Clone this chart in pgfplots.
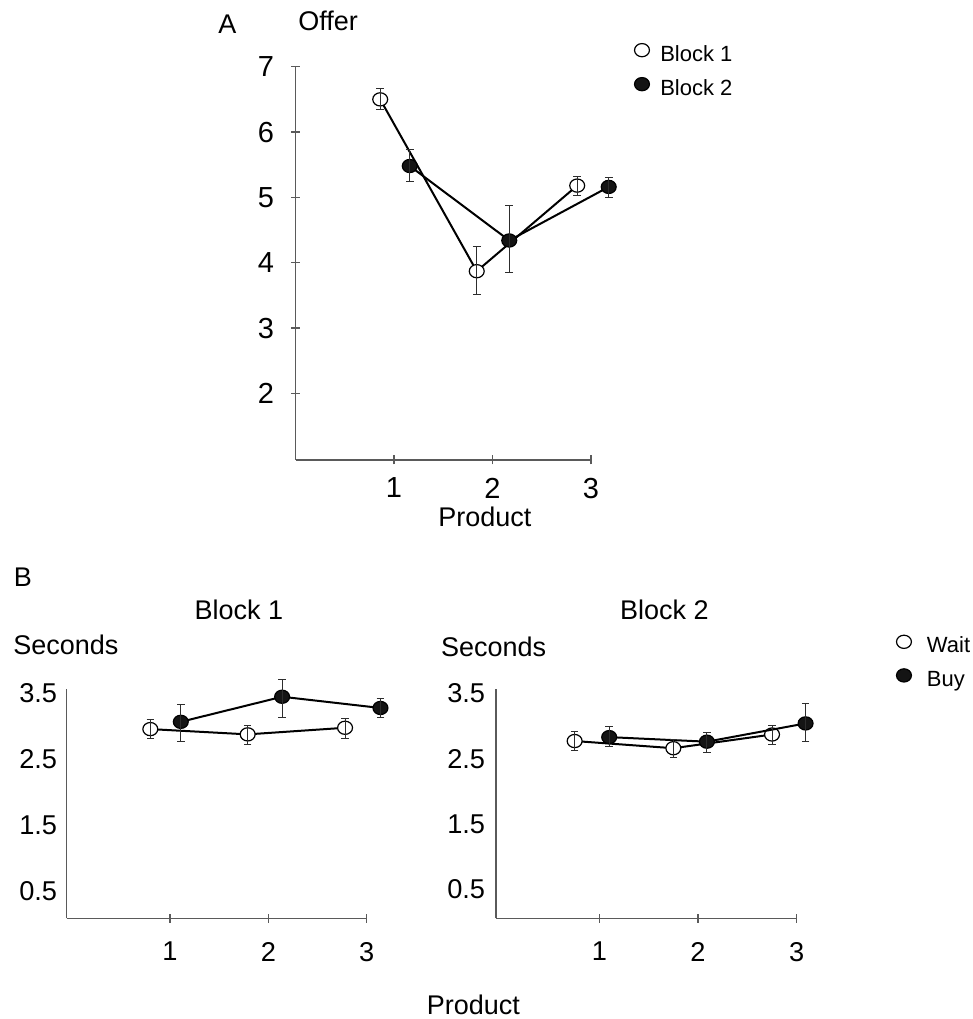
\documentclass[border=0pt]{standalone}
\usepackage{fontspec}
\setmainfont{Liberation Sans}
\usepackage{pgfplots}
\pgfplotsset{compat=1.18}
\usepackage{pgfplotstable}

\definecolor{axgray}{RGB}{90,90,90}
\definecolor{errgray}{RGB}{45,45,45}

\newcommand{\Lab}{\fontsize{13.5}{16}\selectfont}
\newcommand{\TckA}{\fontsize{14.5}{17}\selectfont}
\newcommand{\TckB}{\fontsize{13.6}{16}\selectfont}
\newcommand{\Leg}{\fontsize{11}{13}\selectfont}

\pgfplotsset{
  myaxis/.style={
    clip marker paths=true,
    scale only axis, anchor=south west,
    axis lines=left, axis line style={-, axgray, line width=0.75pt},
    tick style={axgray, line width=0.6pt},
    tick align=center, major tick length=4.5pt,
    /pgf/number format/assume math mode=true,
    clip=false,
    tick label style={inner sep=0pt},
    xtick={1,2,3},
    legend image code/.code={\draw[##1] plot coordinates {(0pt,0pt)};},
  },
  open/.style={black, line width=1pt, mark=*, mark size=3.3pt,
    mark options={xscale=1.13, fill=white, draw=black, line width=0.6pt, solid}},
  filled/.style={black, line width=1pt, mark=*, mark size=3.3pt,
    mark options={xscale=1.13, fill=black!92, draw=black, line width=0.6pt, solid}},
  errs/.style={forget plot, draw=none, mark=none,
    error bars/.cd, y dir=both, y explicit,
    error bar style={draw=errgray, line width=0.5pt, solid},
    error mark options={draw=errgray, rotate=90, mark size=1.9pt, line width=0.5pt}},
}

% Panel A: offers
\pgfplotstableread{
x y ep em
0.86 6.50 0.17 0.15
1.84 3.87 0.38 0.36
2.86 5.18 0.14 0.15
}\AoneTab
\pgfplotstableread{
x y ep em
1.16 5.48 0.26 0.24
2.17 4.34 0.53 0.49
3.18 5.16 0.15 0.16
}\AtwoTab
% Panel B, Block 1
\pgfplotstableread{
x y ep em
0.80 2.95 0.14 0.15
1.79 2.87 0.14 0.16
2.78 2.97 0.14 0.16
}\BoneWait
\pgfplotstableread{
x y ep em
1.11 3.06 0.27 0.30
2.14 3.44 0.26 0.31
3.14 3.27 0.14 0.15
}\BoneBuy
% Panel B, Block 2
\pgfplotstableread{
x y ep em
0.75 2.77 0.14 0.15
1.75 2.66 0.14 0.14
2.75 2.87 0.14 0.15
}\BtwoWait
\pgfplotstableread{
x y ep em
1.10 2.83 0.16 0.15
2.09 2.76 0.14 0.17
3.09 3.04 0.31 0.28
}\BtwoBuy

\begin{document}
\begin{tikzpicture}
\useasboundingbox (0,0) rectangle (486.5pt,509.5pt);

% ---------------- Panel A ----------------
\begin{axis}[myaxis,
  at={(147.75pt,279.5pt)}, width=147.75pt, height=196.65pt,
  xmin=0, xmax=3, ymin=0.98, ymax=7,
  ytick={2,3,4,5,6,7},
  tick label style={font=\TckA},
  yticklabel style={anchor=east, xshift=-8.35pt},
  xticklabel style={anchor=north, yshift=-6.5pt},
  legend style={draw=none, fill=none, at={(1.146,1.071)}, anchor=north west,
    font=\Leg, inner sep=0pt, row sep=6pt, column sep=5.4pt,
    nodes={inner sep=0pt, text height=11pt, text depth=0pt}},
  legend cell align=left,
]
\addplot[open] table[x=x,y=y] {\AoneTab};
\addlegendentry{Block 1}
\addplot[filled] table[x=x,y=y] {\AtwoTab};
\addlegendentry{Block 2}
\addplot[errs] table[x=x,y=y,y error plus=ep,y error minus=em] {\AoneTab};
\addplot[errs] table[x=x,y=y,y error plus=ep,y error minus=em] {\AtwoTab};
\end{axis}

% ---------------- Panel B, Block 1 ----------------
\begin{axis}[myaxis,
  at={(33.35pt,50.25pt)}, width=150pt, height=114.5pt,
  xmin=-0.05, xmax=3, ymin=0.08, ymax=3.55,
  ytick={0.5,1.5,2.5,3.5}, yticklabels={0.5,1.5,2.5,3.5},
  ytick style={draw=none},
  tick label style={font=\TckB},
  yticklabel style={anchor=east, xshift=-2.35pt},
  xticklabel style={anchor=north, yshift=-9.35pt},
]
\addplot[open] table[x=x,y=y] {\BoneWait};
\addplot[filled] table[x=x,y=y] {\BoneBuy};
\addplot[errs] table[x=x,y=y,y error plus=ep,y error minus=em] {\BoneWait};
\addplot[errs] table[x=x,y=y,y error plus=ep,y error minus=em] {\BoneBuy};
\end{axis}

% ---------------- Panel B, Block 2 ----------------
\begin{axis}[myaxis,
  at={(248pt,50.25pt)}, width=150.35pt, height=114.5pt,
  xmin=-0.047, xmax=3, ymin=0.05, ymax=3.56,
  ytick={0.5,1.5,2.5,3.5}, yticklabels={0.5,1.5,2.5,3.5},
  ytick style={draw=none},
  tick label style={font=\TckB},
  yticklabel style={anchor=east, xshift=-3pt},
  xticklabel style={anchor=north, yshift=-9.35pt},
  legend style={draw=none, fill=none, at={(1.3306,1.258)}, anchor=north west,
    font=\Leg, inner sep=0pt, row sep=5.8pt, column sep=7.75pt,
    nodes={inner sep=0pt, text height=11pt, text depth=0pt}},
  legend cell align=left,
]
\addplot[open] table[x=x,y=y] {\BtwoWait};
\addlegendentry{Wait}
\addplot[filled] table[x=x,y=y] {\BtwoBuy};
\addlegendentry{Buy}
\addplot[errs] table[x=x,y=y,y error plus=ep,y error minus=em] {\BtwoWait};
\addplot[errs] table[x=x,y=y,y error plus=ep,y error minus=em] {\BtwoBuy};
\end{axis}

% ---------------- Texts ----------------
\begin{scope}[every node/.style={inner sep=0pt, font=\Lab}]
\node[anchor=base west] at (109pt,492.85pt) {A};
\node[anchor=base west] at (149pt,494.15pt) {Offer};
\node[anchor=base] at (242.4pt,246.2pt) {Product};
\node[anchor=base west] at (6.7pt,216.2pt) {B};
\node[anchor=base] at (119.5pt,199.5pt) {Block 1};
\node[anchor=base west] at (6.5pt,182pt) {Seconds};
\node[anchor=base] at (332.25pt,199.5pt) {Block 2};
\node[anchor=base west] at (220.3pt,181.2pt) {Seconds};
\node[anchor=base] at (236.7pt,2.35pt) {Product};
\end{scope}
\end{tikzpicture}
\end{document}
